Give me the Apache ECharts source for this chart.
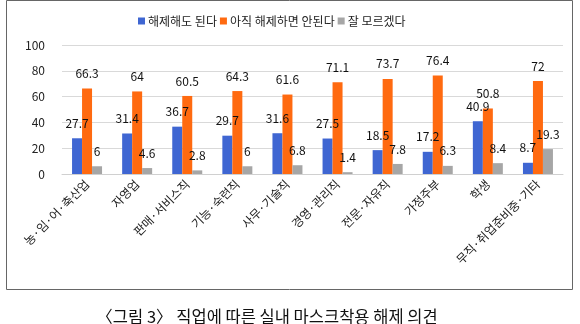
<!DOCTYPE html>
<html><head><meta charset="utf-8">
<script src="https://cdn.jsdelivr.net/npm/echarts@6/dist/echarts.min.js"></script>
<style>html,body{margin:0;padding:0;background:#fff}#c{width:580px;height:324px}</style>
</head><body><div id="c"></div>
<script>
const categories = ['농·임·어·축산업','자영업','판매·서비스직','기능·숙련직','사무·기술직','경영·관리직','전문·자유직','가정주부','학생','무직·취업준비중·기타'];
const seriesNames = ['해제해도 된다','아직 해제하면 안된다','잘 모르겠다'];
const allowVals = [27.7, 31.4, 36.7, 29.7, 31.6, 27.5, 18.5, 17.2, 40.9, 8.7];
const notYetVals = [66.3, 64, 60.5, 64.3, 61.6, 71.1, 73.7, 76.4, 50.8, 72];
const unsureVals = [6, 4.6, 2.8, 6, 6.8, 1.4, 7.8, 6.3, 8.4, 19.3];
const colors = ['#3F66D2', '#FF6A10', '#A6A6A6'];
const captionText = '〈그림 3〉 직업에 따른 실내 마스크착용 해제 의견';

const font = "'Noto Sans CJK KR', sans-serif";
const chart = echarts.init(document.getElementById('c'), null, {renderer: 'canvas'});
const mk = (name, data, color) => ({
  name, type: 'bar', data, barWidth: 10, barGap: '0%',
  itemStyle: {color},
  label: {show: true, position: 'top', distance: 9, color: '#111', fontSize: 12, fontFamily: font}
});
chart.setOption({
  animation: false,
  textStyle: {fontFamily: font},
  title: {text: captionText, left: 262, textAlign: 'center', top: 303,
    textStyle: {fontSize: 16.5, fontWeight: 'normal', color: '#111', fontFamily: font}},
  graphic: [{type: 'rect', shape: {x: 6.5, y: 0.5, width: 566, height: 289},
    style: {fill: 'none', stroke: '#666', lineWidth: 1}, silent: true}],
  legend: {left: 133, top: 10, itemWidth: 7, itemHeight: 7, itemGap: 3, icon: 'rect',
    textStyle: {fontSize: 12, color: '#222', fontFamily: font, padding: [0, 0, 0, -2]}},
  grid: {left: 62, right: 17, top: 45, bottom: 150},
  xAxis: {type: 'category', data: categories,
    axisLine: {lineStyle: {color: '#d0d0d0'}}, axisTick: {show: false},
    axisLabel: {rotate: 45, interval: 0, fontSize: 12, color: '#222', margin: 8, fontFamily: font}},
  yAxis: {type: 'value', min: 0, max: 100, interval: 20,
    axisLine: {show: false}, axisTick: {show: false},
    splitLine: {lineStyle: {color: '#d9d9d9'}},
    axisLabel: {fontSize: 12, color: '#222', margin: 17, fontFamily: font}},
  series: [mk(seriesNames[0], allowVals, colors[0]), mk(seriesNames[1], notYetVals, colors[1]), mk(seriesNames[2], unsureVals, colors[2])]
});
</script></body></html>
